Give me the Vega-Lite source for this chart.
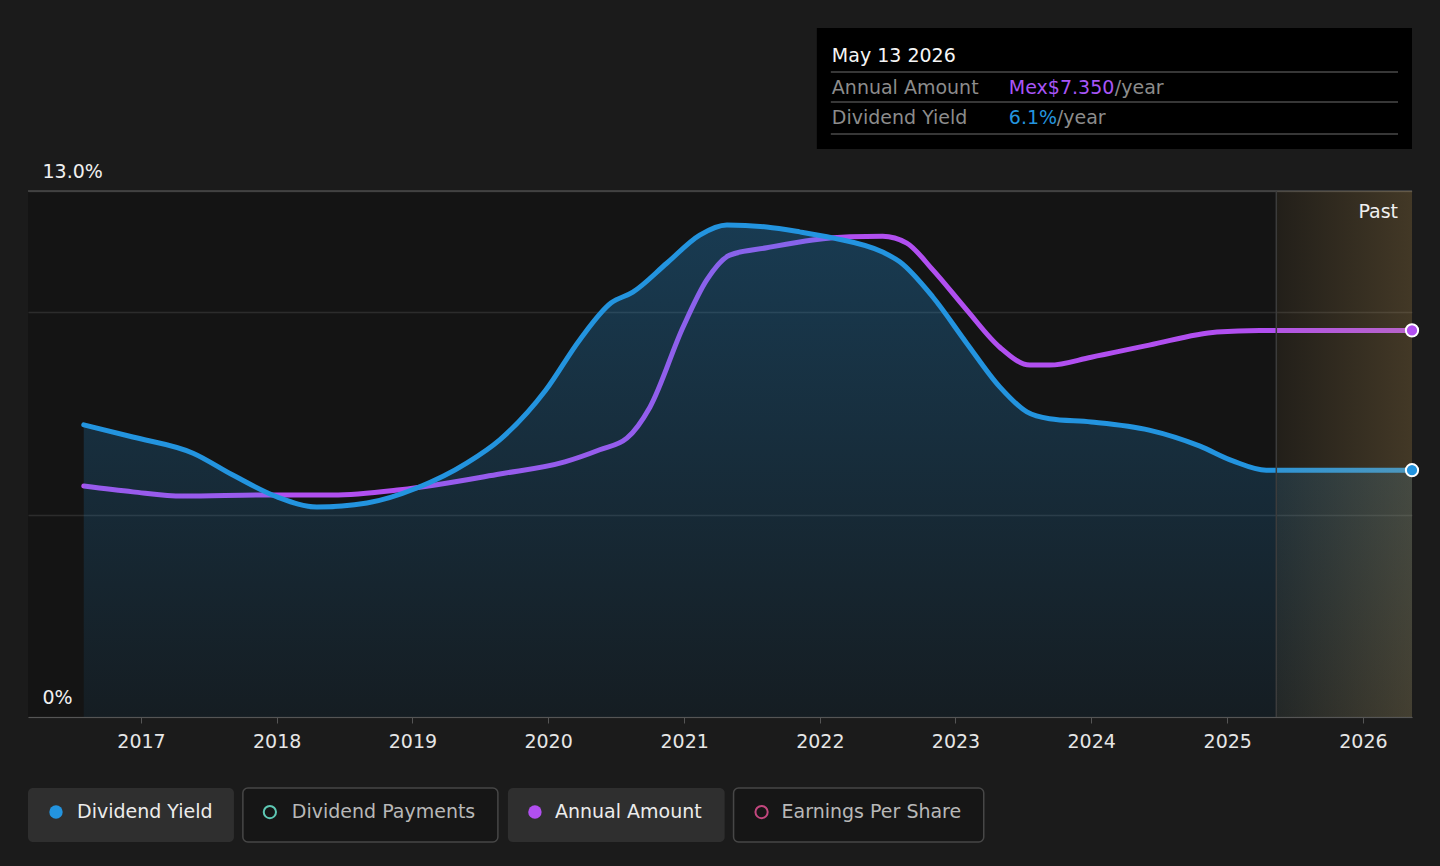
{
 "$schema": "https://vega.github.io/schema/vega-lite/v6.json",
 "width": 1384,
 "height": 526,
 "autosize": {"type": "none"},
 "padding": {"left": 28, "top": 191, "right": 28, "bottom": 149},
 "background": "#1b1b1b",
 "config": {"view": {"fill": "#141414", "stroke": null}},
 "resolve": {"scale": {"y": "independent"}},
 "layer": [
  {
   "data": {"values": [
    {"date": "2016-07-31", "amount": 4.39},
    {"date": "2016-12-10", "amount": 4.28},
    {"date": "2017-04-24", "amount": 4.2},
    {"date": "2017-12-06", "amount": 4.22},
    {"date": "2018-06-01", "amount": 4.22},
    {"date": "2018-11-29", "amount": 4.32},
    {"date": "2019-08-24", "amount": 4.62},
    {"date": "2020-02-15", "amount": 4.85},
    {"date": "2020-05-19", "amount": 5.08},
    {"date": "2020-07-31", "amount": 5.3},
    {"date": "2020-10-01", "amount": 5.89},
    {"date": "2020-12-29", "amount": 7.41},
    {"date": "2021-03-03", "amount": 8.31},
    {"date": "2021-05-04", "amount": 8.78},
    {"date": "2021-08-11", "amount": 8.92},
    {"date": "2021-12-13", "amount": 9.07},
    {"date": "2022-03-23", "amount": 9.13},
    {"date": "2022-06-19", "amount": 9.14},
    {"date": "2022-08-23", "amount": 9.01},
    {"date": "2022-11-01", "amount": 8.5},
    {"date": "2023-01-31", "amount": 7.74},
    {"date": "2023-04-30", "amount": 7.03},
    {"date": "2023-07-20", "amount": 6.69},
    {"date": "2023-09-11", "amount": 6.69},
    {"date": "2024-01-01", "amount": 6.84},
    {"date": "2024-06-05", "amount": 7.07},
    {"date": "2024-12-04", "amount": 7.32},
    {"date": "2025-03-29", "amount": 7.35},
    {"date": "2026-05-13", "amount": 7.35}
   ]},
   "mark": {"type": "line", "interpolate": "monotone", "strokeWidth": 5, "strokeCap": "round", "color": "#b14ff0"},
   "encoding": {
    "x": {"field": "date", "type": "temporal", "title": null, "scale": {"domain": [{"year": 2016, "month": 3, "date": 3}, {"year": 2026, "month": 5, "date": 13}]}},
    "y": {"field": "amount", "type": "quantitative", "scale": {"domain": [0, 10]}, "axis": null}
   }
  },
  {
   "data": {"values": [
    {"date": "2016-07-31", "yield": 7.22},
    {"date": "2016-12-10", "yield": 6.92},
    {"date": "2017-05-21", "yield": 6.52},
    {"date": "2017-09-05", "yield": 5.98},
    {"date": "2018-01-02", "yield": 5.44},
    {"date": "2018-04-19", "yield": 5.19},
    {"date": "2018-09-01", "yield": 5.29},
    {"date": "2019-01-13", "yield": 5.66},
    {"date": "2019-05-28", "yield": 6.28},
    {"date": "2019-08-24", "yield": 6.85},
    {"date": "2019-12-26", "yield": 8.08},
    {"date": "2020-03-26", "yield": 9.32},
    {"date": "2020-06-18", "yield": 10.23},
    {"date": "2020-08-16", "yield": 10.5},
    {"date": "2020-11-16", "yield": 11.22},
    {"date": "2021-02-12", "yield": 11.91},
    {"date": "2021-04-26", "yield": 12.16},
    {"date": "2021-08-11", "yield": 12.11},
    {"date": "2021-11-08", "yield": 11.99},
    {"date": "2022-02-05", "yield": 11.84},
    {"date": "2022-06-19", "yield": 11.49},
    {"date": "2022-08-04", "yield": 11.25},
    {"date": "2022-11-01", "yield": 10.38},
    {"date": "2023-01-31", "yield": 9.24},
    {"date": "2023-04-30", "yield": 8.16},
    {"date": "2023-07-12", "yield": 7.54},
    {"date": "2023-09-11", "yield": 7.37},
    {"date": "2024-01-01", "yield": 7.29},
    {"date": "2024-06-05", "yield": 7.09},
    {"date": "2024-10-18", "yield": 6.7},
    {"date": "2025-01-16", "yield": 6.33},
    {"date": "2025-04-16", "yield": 6.1},
    {"date": "2026-05-13", "yield": 6.1}
   ]},
   "layer": [
    {
     "mark": {
      "type": "area",
      "interpolate": "monotone",
      "line": false,
      "fill": {"gradient": "linear", "x1": 0, "y1": 0, "x2": 0, "y2": 1, "stops": [{"offset": 0, "color": "rgba(35,148,223,0.30)"}, {"offset": 1, "color": "rgba(35,148,223,0.07)"}]}
     },
     "encoding": {
      "x": {
       "field": "date",
       "type": "temporal",
       "title": null,
       "scale": {"domain": [{"year": 2016, "month": 3, "date": 3}, {"year": 2026, "month": 5, "date": 13}]},
       "axis": {
        "format": "%Y",
        "values": [{"year": 2017, "month": 1, "date": 1}, {"year": 2018, "month": 1, "date": 1}, {"year": 2019, "month": 1, "date": 1}, {"year": 2020, "month": 1, "date": 1}, {"year": 2021, "month": 1, "date": 1}, {"year": 2022, "month": 1, "date": 1}, {"year": 2023, "month": 1, "date": 1}, {"year": 2024, "month": 1, "date": 1}, {"year": 2025, "month": 1, "date": 1}, {"year": 2026, "month": 1, "date": 1}],
        "labelFontSize": 19,
        "labelColor": "#e6e6e6",
        "labelFont": "DejaVu Sans",
        "tickColor": "#555555",
        "tickSize": 6,
        "domainColor": "#555555",
        "grid": false,
        "title": null,
        "labelPadding": 9,
        "labelFlush": false
       }
      },
      "y": {
       "field": "yield",
       "type": "quantitative",
       "scale": {"domain": [0, 13]},
       "axis": {
        "values": [0, 5, 10, 13],
        "labelExpr": "datum.value == 13 ? '13.0%' : (datum.value == 0 ? '0%' : '')",
        "labelAlign": "left",
        "labelPadding": -14,
        "labelOffset": -14,
        "labelBaseline": "alphabetic",
        "ticks": false,
        "domain": false,
        "grid": true,
        "gridColor": "#2c2c2c",
        "gridWidth": 1.5,
        "labelFontSize": 19,
        "labelFont": "DejaVu Sans",
        "labelColor": "#f0f0f0",
        "title": null
       }
      }
     }
    },
    {
     "mark": {"type": "line", "interpolate": "monotone", "strokeWidth": 5, "strokeCap": "round", "color": "#2394df"},
     "encoding": {
      "x": {"field": "date", "type": "temporal", "title": null},
      "y": {"field": "yield", "type": "quantitative"}
     }
    }
   ]
  },
  {
   "data": {"values": [{}]},
   "mark": {"type": "rule", "color": "#4a4a4a", "strokeWidth": 1.5},
   "encoding": {
    "y": {"datum": 13, "type": "quantitative", "scale": {"domain": [0, 13]}, "axis": null}
   }
  },
  {
   "data": {"values": [{}]},
   "mark": {
    "type": "rect",
    "fill": {"gradient": "linear", "x1": 0, "y1": 0, "x2": 1, "y2": 0, "stops": [{"offset": 0, "color": "rgba(200,160,90,0.08)"}, {"offset": 1, "color": "rgba(200,160,90,0.26)"}]}
   },
   "encoding": {
    "x": {"datum": {"year": 2025, "month": 5, "date": 13}, "type": "temporal"},
    "x2": {"datum": {"year": 2026, "month": 5, "date": 13}},
    "y": {"datum": 13, "type": "quantitative", "scale": {"domain": [0, 13]}, "axis": null},
    "y2": {"datum": 0}
   }
  },
  {
   "data": {"values": [{}]},
   "mark": {"type": "rule", "color": "#3c3c3c", "strokeWidth": 1.5},
   "encoding": {
    "x": {"datum": {"year": 2025, "month": 5, "date": 13}, "type": "temporal"},
    "y": {"datum": 13, "type": "quantitative", "scale": {"domain": [0, 13]}, "axis": null},
    "y2": {"datum": 0}
   }
  },
  {
   "data": {"values": [{}]},
   "mark": {"type": "text", "text": "Past", "align": "right", "baseline": "middle", "dx": -14, "fontSize": 19, "font": "DejaVu Sans", "color": "#f0f0f0"},
   "encoding": {
    "x": {"datum": {"year": 2026, "month": 5, "date": 13}, "type": "temporal"},
    "y": {"datum": 12.48, "type": "quantitative", "scale": {"domain": [0, 13]}, "axis": null}
   }
  },
  {
   "data": {"values": [{}]},
   "mark": {"type": "rect", "fill": "#000000"},
   "encoding": {
    "x": {"datum": {"year": 2021, "month": 12, "date": 24}, "type": "temporal"},
    "x2": {"datum": {"year": 2026, "month": 5, "date": 13}},
    "y": {"datum": 17.03, "type": "quantitative", "scale": {"domain": [0, 13]}, "axis": null},
    "y2": {"datum": 14.04}
   }
  },
  {
   "data": {"values": [{}]},
   "mark": {"type": "rule", "color": "#4a4a4a", "strokeWidth": 1.5, "xOffset": 14, "x2Offset": -14},
   "encoding": {
    "x": {"datum": {"year": 2021, "month": 12, "date": 24}, "type": "temporal"},
    "x2": {"datum": {"year": 2026, "month": 5, "date": 13}},
    "y": {"datum": 15.94, "type": "quantitative", "scale": {"domain": [0, 13]}, "axis": null}
   }
  },
  {
   "data": {"values": [{}]},
   "mark": {"type": "rule", "color": "#4a4a4a", "strokeWidth": 1.5, "xOffset": 14, "x2Offset": -14},
   "encoding": {
    "x": {"datum": {"year": 2021, "month": 12, "date": 24}, "type": "temporal"},
    "x2": {"datum": {"year": 2026, "month": 5, "date": 13}},
    "y": {"datum": 15.2, "type": "quantitative", "scale": {"domain": [0, 13]}, "axis": null}
   }
  },
  {
   "data": {"values": [{}]},
   "mark": {"type": "rule", "color": "#4a4a4a", "strokeWidth": 1.5, "xOffset": 14, "x2Offset": -14},
   "encoding": {
    "x": {"datum": {"year": 2021, "month": 12, "date": 24}, "type": "temporal"},
    "x2": {"datum": {"year": 2026, "month": 5, "date": 13}},
    "y": {"datum": 14.41, "type": "quantitative", "scale": {"domain": [0, 13]}, "axis": null}
   }
  },
  {
   "data": {"values": [{}]},
   "mark": {"type": "text", "text": "May 13 2026", "align": "left", "baseline": "middle", "dx": 15, "fontSize": 19, "font": "DejaVu Sans", "color": "#f5f5f5"},
   "encoding": {
    "x": {"datum": {"year": 2021, "month": 12, "date": 24}, "type": "temporal"},
    "y": {"datum": 16.34, "type": "quantitative", "scale": {"domain": [0, 13]}, "axis": null}
   }
  },
  {
   "data": {"values": [{}]},
   "mark": {"type": "text", "text": "Annual Amount", "align": "left", "baseline": "middle", "dx": 15, "fontSize": 19, "font": "DejaVu Sans", "color": "#8c8c8c"},
   "encoding": {
    "x": {"datum": {"year": 2021, "month": 12, "date": 24}, "type": "temporal"},
    "y": {"datum": 15.55, "type": "quantitative", "scale": {"domain": [0, 13]}, "axis": null}
   }
  },
  {
   "data": {"values": [{}]},
   "mark": {"type": "text", "text": "Mex$7.350", "align": "left", "baseline": "middle", "dx": 192, "fontSize": 19, "font": "DejaVu Sans", "color": "#a855f7"},
   "encoding": {
    "x": {"datum": {"year": 2021, "month": 12, "date": 24}, "type": "temporal"},
    "y": {"datum": 15.55, "type": "quantitative", "scale": {"domain": [0, 13]}, "axis": null}
   }
  },
  {
   "data": {"values": [{}]},
   "mark": {"type": "text", "text": "/year", "align": "left", "baseline": "middle", "dx": 298, "fontSize": 19, "font": "DejaVu Sans", "color": "#8c8c8c"},
   "encoding": {
    "x": {"datum": {"year": 2021, "month": 12, "date": 24}, "type": "temporal"},
    "y": {"datum": 15.55, "type": "quantitative", "scale": {"domain": [0, 13]}, "axis": null}
   }
  },
  {
   "data": {"values": [{}]},
   "mark": {"type": "text", "text": "Dividend Yield", "align": "left", "baseline": "middle", "dx": 15, "fontSize": 19, "font": "DejaVu Sans", "color": "#8c8c8c"},
   "encoding": {
    "x": {"datum": {"year": 2021, "month": 12, "date": 24}, "type": "temporal"},
    "y": {"datum": 14.8, "type": "quantitative", "scale": {"domain": [0, 13]}, "axis": null}
   }
  },
  {
   "data": {"values": [{}]},
   "mark": {"type": "text", "text": "6.1%", "align": "left", "baseline": "middle", "dx": 192, "fontSize": 19, "font": "DejaVu Sans", "color": "#2394df"},
   "encoding": {
    "x": {"datum": {"year": 2021, "month": 12, "date": 24}, "type": "temporal"},
    "y": {"datum": 14.8, "type": "quantitative", "scale": {"domain": [0, 13]}, "axis": null}
   }
  },
  {
   "data": {"values": [{}]},
   "mark": {"type": "text", "text": "/year", "align": "left", "baseline": "middle", "dx": 240, "fontSize": 19, "font": "DejaVu Sans", "color": "#8c8c8c"},
   "encoding": {
    "x": {"datum": {"year": 2021, "month": 12, "date": 24}, "type": "temporal"},
    "y": {"datum": 14.8, "type": "quantitative", "scale": {"domain": [0, 13]}, "axis": null}
   }
  },
  {
   "data": {"values": [{"date": "2026-05-13", "yield": 6.1}]},
   "mark": {"type": "point", "filled": true, "size": 150, "fill": "#2394df", "stroke": "#ffffff", "strokeWidth": 2, "opacity": 1},
   "encoding": {
    "x": {"field": "date", "type": "temporal", "title": null},
    "y": {"field": "yield", "type": "quantitative", "scale": {"domain": [0, 13]}, "axis": null}
   }
  },
  {
   "data": {"values": [{"date": "2026-05-13", "amount": 7.35}]},
   "mark": {"type": "point", "filled": true, "size": 150, "fill": "#b14ff0", "stroke": "#ffffff", "strokeWidth": 2, "opacity": 1},
   "encoding": {
    "x": {"field": "date", "type": "temporal", "title": null},
    "y": {"field": "amount", "type": "quantitative", "scale": {"domain": [0, 10]}, "axis": null}
   }
  },
  {
   "data": {"values": [{}]},
   "mark": {"type": "rect", "fill": "#2f2f2f", "cornerRadius": 5},
   "encoding": {
    "x": {"datum": {"year": 2016, "month": 3, "date": 3}, "type": "temporal"},
    "x2": {"datum": {"year": 2017, "month": 9, "date": 8}},
    "y": {"datum": -1.755, "type": "quantitative", "scale": {"domain": [0, 13]}, "axis": null},
    "y2": {"datum": -3.089}
   }
  },
  {
   "data": {"values": [{}]},
   "mark": {"type": "rect", "fill": "#161616", "stroke": "#474747", "strokeWidth": 1.5, "cornerRadius": 5},
   "encoding": {
    "x": {"datum": {"year": 2017, "month": 10, "date": 2}, "type": "temporal"},
    "x2": {"datum": {"year": 2019, "month": 8, "date": 19}},
    "y": {"datum": -1.755, "type": "quantitative", "scale": {"domain": [0, 13]}, "axis": null},
    "y2": {"datum": -3.089}
   }
  },
  {
   "data": {"values": [{}]},
   "mark": {"type": "rect", "fill": "#2f2f2f", "cornerRadius": 5},
   "encoding": {
    "x": {"datum": {"year": 2019, "month": 9, "date": 15}, "type": "temporal"},
    "x2": {"datum": {"year": 2021, "month": 4, "date": 20}},
    "y": {"datum": -1.755, "type": "quantitative", "scale": {"domain": [0, 13]}, "axis": null},
    "y2": {"datum": -3.089}
   }
  },
  {
   "data": {"values": [{}]},
   "mark": {"type": "rect", "fill": "#161616", "stroke": "#474747", "strokeWidth": 1.5, "cornerRadius": 5},
   "encoding": {
    "x": {"datum": {"year": 2021, "month": 5, "date": 14}, "type": "temporal"},
    "x2": {"datum": {"year": 2023, "month": 3, "date": 18}},
    "y": {"datum": -1.755, "type": "quantitative", "scale": {"domain": [0, 13]}, "axis": null},
    "y2": {"datum": -3.089}
   }
  },
  {
   "data": {"values": [{}]},
   "mark": {"type": "point", "shape": "circle", "filled": true, "size": 180, "fill": "#2394df", "strokeWidth": 0, "opacity": 1, "xOffset": 28},
   "encoding": {
    "x": {"datum": {"year": 2016, "month": 3, "date": 3}, "type": "temporal"},
    "y": {"datum": -2.348, "type": "quantitative", "scale": {"domain": [0, 13]}, "axis": null}
   }
  },
  {
   "data": {"values": [{}]},
   "mark": {"type": "point", "shape": "circle", "filled": false, "size": 150, "fill": "transparent", "stroke": "#5ec8b4", "strokeWidth": 2, "opacity": 1, "xOffset": 27},
   "encoding": {
    "x": {"datum": {"year": 2017, "month": 10, "date": 2}, "type": "temporal"},
    "y": {"datum": -2.348, "type": "quantitative", "scale": {"domain": [0, 13]}, "axis": null}
   }
  },
  {
   "data": {"values": [{}]},
   "mark": {"type": "point", "shape": "circle", "filled": true, "size": 180, "fill": "#b14ff0", "strokeWidth": 0, "opacity": 1, "xOffset": 27},
   "encoding": {
    "x": {"datum": {"year": 2019, "month": 9, "date": 15}, "type": "temporal"},
    "y": {"datum": -2.348, "type": "quantitative", "scale": {"domain": [0, 13]}, "axis": null}
   }
  },
  {
   "data": {"values": [{}]},
   "mark": {"type": "point", "shape": "circle", "filled": false, "size": 150, "fill": "transparent", "stroke": "#c2477e", "strokeWidth": 2, "opacity": 1, "xOffset": 28},
   "encoding": {
    "x": {"datum": {"year": 2021, "month": 5, "date": 14}, "type": "temporal"},
    "y": {"datum": -2.348, "type": "quantitative", "scale": {"domain": [0, 13]}, "axis": null}
   }
  },
  {
   "data": {"values": [{}]},
   "mark": {"type": "text", "text": "Dividend Yield", "align": "left", "baseline": "middle", "dx": 49, "fontSize": 19, "font": "DejaVu Sans", "color": "#ececec"},
   "encoding": {
    "x": {"datum": {"year": 2016, "month": 3, "date": 3}, "type": "temporal"},
    "y": {"datum": -2.348, "type": "quantitative", "scale": {"domain": [0, 13]}, "axis": null}
   }
  },
  {
   "data": {"values": [{}]},
   "mark": {"type": "text", "text": "Dividend Payments", "align": "left", "baseline": "middle", "dx": 49, "fontSize": 19, "font": "DejaVu Sans", "color": "#b8b8b8"},
   "encoding": {
    "x": {"datum": {"year": 2017, "month": 10, "date": 2}, "type": "temporal"},
    "y": {"datum": -2.348, "type": "quantitative", "scale": {"domain": [0, 13]}, "axis": null}
   }
  },
  {
   "data": {"values": [{}]},
   "mark": {"type": "text", "text": "Annual Amount", "align": "left", "baseline": "middle", "dx": 47, "fontSize": 19, "font": "DejaVu Sans", "color": "#ececec"},
   "encoding": {
    "x": {"datum": {"year": 2019, "month": 9, "date": 15}, "type": "temporal"},
    "y": {"datum": -2.348, "type": "quantitative", "scale": {"domain": [0, 13]}, "axis": null}
   }
  },
  {
   "data": {"values": [{}]},
   "mark": {"type": "text", "text": "Earnings Per Share", "align": "left", "baseline": "middle", "dx": 48, "fontSize": 19, "font": "DejaVu Sans", "color": "#b8b8b8"},
   "encoding": {
    "x": {"datum": {"year": 2021, "month": 5, "date": 14}, "type": "temporal"},
    "y": {"datum": -2.348, "type": "quantitative", "scale": {"domain": [0, 13]}, "axis": null}
   }
  }
 ]
}
